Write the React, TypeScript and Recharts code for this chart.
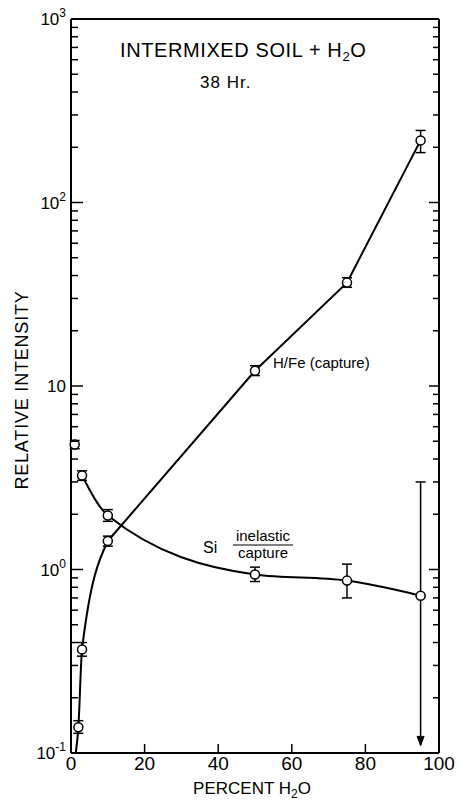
import React from 'react';
import { ComposedChart, Line, Scatter, XAxis, YAxis, ErrorBar, ReferenceLine } from 'recharts';

// H/Fe (capture) measurements
const hfeX = [2, 3, 10, 50, 75, 95];
const hfeY = [0.138, 0.367, 1.43, 12.1, 36.6, 218];
const hfeLow = [0.128, 0.337, 1.34, 11.4, 34.5, 187];
const hfeHigh = [0.15, 0.4, 1.52, 12.9, 38.9, 247];
// curve drawn through them: bent part near zero, then near-straight part
const hfeLowCurveX = [1.3, 2, 3, 10];
const hfeLowCurveY = [0.1, 0.138, 0.367, 1.43];
const hfeHighCurveX = [10, 50, 75, 95];
const hfeHighCurveY = [1.43, 12.1, 36.6, 218];

// Si inelastic/capture measurements
const siX = [1, 3, 10, 50, 75, 95];
const siY = [4.8, 3.25, 1.97, 0.94, 0.87, 0.72];
const siLow = [4.55, 3.06, 1.83, 0.86, 0.7, 0.72];
const siHigh = [5.05, 3.45, 2.12, 1.03, 1.07, 3.0];
const siCurveX = [3, 10, 50, 75, 95];
const siCurveY = [3.25, 1.97, 0.94, 0.87, 0.72];
// last Si point: error bar runs down to zero (arrow)
const siArrowTop = { x: 95, y: 0.72 };
const siArrowTip = [{ x: 95, y: 0.11 }];

const xTicks = [0, 20, 40, 60, 80, 100];
const xTopTicks = [20, 40, 60, 80];
const yDecades = [0.1, 1, 10, 100];
const yMinor = [1, 2, 3, 4, 5, 6, 7, 8, 9];
const yTicks = [...yDecades.flatMap(d => yMinor.map(m => d * m)), 1000];
const decadeLabels: Record<string, string> = { '0.1': '-1', '1': '0', '10': '', '100': '2', '1000': '3' };

const FONT = '"Liberation Sans", Arial, sans-serif';

const toPoints = (xs: number[], ys: number[], lo?: number[], hi?: number[]) =>
    xs.map((x, i) => ({
        x,
        y: ys[i],
        err: lo && hi ? [ys[i] - lo[i], hi[i] - ys[i]] : undefined,
    }));

const hfePoints = toPoints(hfeX, hfeY, hfeLow, hfeHigh);
const hfeLowCurve = toPoints(hfeLowCurveX, hfeLowCurveY);
const hfeHighCurve = toPoints(hfeHighCurveX, hfeHighCurveY);
const siPoints = toPoints(siX, siY, siLow, siHigh);
const siCurve = toPoints(siCurveX, siCurveY);

const isDecade = (v: number) => Math.abs(Math.log10(v) - Math.round(Math.log10(v))) < 1e-6;

const LeftTick = ({ x, y, payload }: any) => {
    const v = payload.value;
    const major = isDecade(v);
    const sup = major ? decadeLabels[String(Number(v.toPrecision(3)))] : undefined;
    return (
        <g>
            {v > 0.1 && v < 1000 && (
                <line x1={x} x2={x + (major ? 12 : 7)} y1={y} y2={y} stroke="#000" strokeWidth={1.5} />
            )}
            {major && (
                <text x={x - 5} y={y + 6} textAnchor="end" fontSize={17} fontFamily={FONT} fill="#000">
                    10
                    {sup ? (
                        <tspan fontSize={12} dy={-8}>
                            {sup}
                        </tspan>
                    ) : null}
                </text>
            )}
        </g>
    );
};

const RightTick = ({ x, y, payload }: any) => {
    const v = payload.value;
    if (v <= 0.1 || v >= 1000) return <g />;
    const major = isDecade(v);
    return <line x1={x} x2={x - (major ? 10 : 6)} y1={y} y2={y} stroke="#000" strokeWidth={1.5} />;
};

const BottomTick = ({ x, y, payload }: any) => {
    const v = payload.value;
    return (
        <g>
            {v > 0 && v < 100 && <line x1={x} x2={x} y1={y} y2={y - 9} stroke="#000" strokeWidth={1.5} />}
            <text x={x} y={y + 17} textAnchor="middle" fontSize={19} fontFamily={FONT} fill="#000">
                {v}
            </text>
        </g>
    );
};

const TopTick = ({ x, y }: any) => <line x1={x} x2={x} y1={y} y2={y + 10} stroke="#000" strokeWidth={1.5} />;

const OpenCircle = ({ cx, cy }: any) => (
    <circle cx={cx} cy={cy} r={4.5} fill="#fff" stroke="#000" strokeWidth={1.5} />
);

const ArrowHead = ({ cx, cy }: any) => (
    <path d={`M${cx - 3.5},${cy - 9} L${cx},${cy} L${cx + 3.5},${cy - 9} Z`} fill="#000" stroke="#000" strokeWidth={1} />
);

const Nothing = () => <g />;

export default function App() {
    return (
        <div style={{ position: 'absolute', left: 0, top: 0, width: 462, height: 802, background: '#fff' }}>
            <ComposedChart width={462} height={802} margin={{ top: 0, right: 0, bottom: 0, left: 0 }}>
                <XAxis
                    dataKey="x"
                    type="number"
                    domain={[0, 100]}
                    ticks={xTicks}
                    interval={0}
                    height={49}
                    tickSize={0}
                    tickMargin={0}
                    tickLine={false}
                    tick={<BottomTick />}
                    axisLine={{ stroke: '#000', strokeWidth: 2 }}
                />
                <XAxis
                    xAxisId="top"
                    orientation="top"
                    type="number"
                    domain={[0, 100]}
                    ticks={xTopTicks}
                    interval={0}
                    height={19}
                    tickSize={0}
                    tickMargin={0}
                    tickLine={false}
                    tick={<TopTick />}
                    axisLine={{ stroke: '#000', strokeWidth: 2 }}
                />
                <YAxis
                    dataKey="y"
                    type="number"
                    scale="log"
                    domain={[0.1, 1000]}
                    allowDataOverflow
                    ticks={yTicks}
                    interval={0}
                    width={71}
                    tickSize={0}
                    tickMargin={0}
                    tickLine={false}
                    tick={<LeftTick />}
                    axisLine={{ stroke: '#000', strokeWidth: 2 }}
                />
                <YAxis
                    yAxisId="r"
                    orientation="right"
                    type="number"
                    scale="log"
                    domain={[0.1, 1000]}
                    allowDataOverflow
                    ticks={yTicks}
                    interval={0}
                    width={23}
                    tickSize={0}
                    tickMargin={0}
                    tickLine={false}
                    tick={<RightTick />}
                    axisLine={{ stroke: '#000', strokeWidth: 2 }}
                />
                <Line
                    data={hfeLowCurve}
                    dataKey="y"
                    type="monotone"
                    stroke="#000"
                    strokeWidth={2}
                    dot={false}
                    isAnimationActive={false}
                />
                <Line
                    data={hfeHighCurve}
                    dataKey="y"
                    type="linear"
                    stroke="#000"
                    strokeWidth={2}
                    dot={false}
                    isAnimationActive={false}
                />
                <Line
                    data={siCurve}
                    dataKey="y"
                    type="monotone"
                    stroke="#000"
                    strokeWidth={2}
                    dot={false}
                    isAnimationActive={false}
                />
                <ReferenceLine
                    segment={[siArrowTop, { x: siArrowTip[0].x, y: siArrowTip[0].y }]}
                    stroke="#000"
                    strokeWidth={1.5}
                />
                <Scatter data={siArrowTip} shape={<ArrowHead />} isAnimationActive={false} />
                <Scatter data={hfePoints} shape={<Nothing />} isAnimationActive={false}>
                    <ErrorBar dataKey="err" direction="y" width={5} stroke="#000" strokeWidth={1.5} />
                </Scatter>
                <Scatter data={siPoints} shape={<Nothing />} isAnimationActive={false}>
                    <ErrorBar dataKey="err" direction="y" width={5} stroke="#000" strokeWidth={1.5} />
                </Scatter>
                <Scatter data={hfePoints} shape={<OpenCircle />} isAnimationActive={false} />
                <Scatter data={siPoints} shape={<OpenCircle />} isAnimationActive={false} />
            </ComposedChart>
            <svg
                width={462}
                height={802}
                style={{ position: 'absolute', left: 0, top: 0, pointerEvents: 'none' }}
                fontFamily={FONT}
                fill="#000"
            >
                <text x={120} y={57} fontSize={20} letterSpacing={0.6}>
                    INTERMIXED SOIL + H
                    <tspan fontSize={13} dy={4}>
                        2
                    </tspan>
                    <tspan dy={-4}>O</tspan>
                </text>
                <text x={200} y={88} fontSize={17} letterSpacing={1}>
                    38 Hr.
                </text>
                <text x={28} y={390} fontSize={18} letterSpacing={0.8} textAnchor="middle" transform="rotate(-90 28 390)">
                    RELATIVE INTENSITY
                </text>
                <text x={252} y={794} fontSize={17} textAnchor="middle">
                    PERCENT H
                    <tspan fontSize={12} dy={4}>
                        2
                    </tspan>
                    <tspan dy={-4}>O</tspan>
                </text>
                <text x={273} y={368} fontSize={15}>
                    H/Fe (capture)
                </text>
                <text x={203} y={553} fontSize={16}>
                    Si
                </text>
                <text x={263} y={541} fontSize={15} textAnchor="middle">
                    inelastic
                </text>
                <line x1={233} x2={293} y1={545} y2={545} stroke="#000" strokeWidth={1.2} />
                <text x={263} y={558} fontSize={15} textAnchor="middle">
                    capture
                </text>
            </svg>
        </div>
    );
}
